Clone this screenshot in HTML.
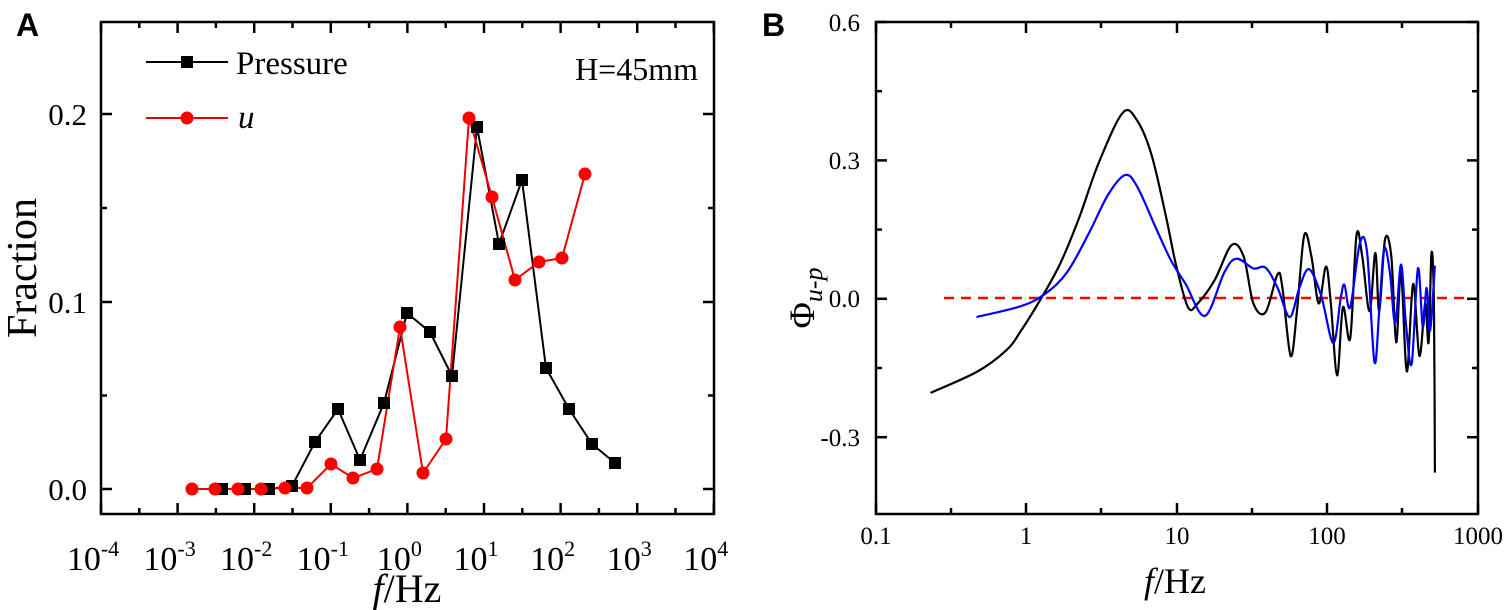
<!DOCTYPE html>
<html><head><meta charset="utf-8"><style>
body{margin:0;background:#fff;}
svg{display:block;font-family:"Liberation Serif",serif;}
</style></head><body>
<svg id="s" width="1505" height="610" viewBox="0 0 1505 610" xmlns="http://www.w3.org/2000/svg">
<g font-family="Liberation Sans,sans-serif" font-weight="bold" font-size="32">
<text x="16" y="36">A</text><text x="762" y="36">B</text></g>
<rect x="101" y="22" width="613" height="492" fill="none" stroke="#000" stroke-width="2.5"/>
<g id="ticksA" stroke="#000" stroke-width="2.5"></g>
<g font-size="31" text-anchor="end">
<text x="87" y="500">0.0</text><text x="87" y="313">0.1</text><text x="87" y="125">0.2</text></g>
<g id="xlabA" font-size="34"></g>
<text x="0" y="0" font-size="42" transform="translate(36,268) rotate(-90)" text-anchor="middle">Fraction</text>
<text x="407" y="602" font-size="40" text-anchor="middle"><tspan font-style="italic">f</tspan>/Hz</text>
<text x="698" y="80" font-size="32" text-anchor="end">H=45mm</text>
<line x1="146" y1="62" x2="228" y2="62" stroke="#000" stroke-width="2"/>
<rect x="181" y="56" width="12" height="12" fill="#000"/>
<text x="236" y="74" font-size="33">Pressure</text>
<line x1="146" y1="118" x2="228" y2="118" stroke="#e00" stroke-width="2"/>
<circle cx="187" cy="118" r="6.5" fill="#f00"/>
<text x="238" y="128" font-size="33" font-style="italic">u</text>
<g id="dataA"></g>
<rect x="876" y="22" width="602" height="492" fill="none" stroke="#000" stroke-width="2.5"/>
<g id="ticksB" stroke="#000" stroke-width="2.5"></g>
<g font-size="25" text-anchor="end">
<text x="860" y="31">0.6</text><text x="860" y="169">0.3</text><text x="860" y="307">0.0</text><text x="860" y="446">-0.3</text></g>
<g font-size="25" text-anchor="middle">
<text x="876" y="544">0.1</text><text x="1026" y="544">1</text><text x="1177" y="544">10</text><text x="1327" y="544">100</text><text x="1478" y="544">1000</text></g>
<text x="0" y="0" font-size="36" transform="translate(814,298) rotate(-90)" text-anchor="middle">Φ<tspan font-size="26" dy="8" font-style="italic">u-p</tspan></text>
<text x="1175" y="593" font-size="36" text-anchor="middle"><tspan font-style="italic">f</tspan>/Hz</text>
<line x1="944" y1="298" x2="1469" y2="298" stroke="#f00" stroke-width="2.5" stroke-dasharray="10,7"/>
<g id="dataB"></g>
</svg>
<script>
var NS="http://www.w3.org/2000/svg";
function el(p,t,a){var e=document.createElementNS(NS,t);for(var k in a)e.setAttribute(k,a[k]);document.getElementById(p).appendChild(e);return e;}
for(var i=0;i<=8;i++){var x=101+i*76.6;el("ticksA","line",{x1:x,y1:514,x2:x,y2:503});el("ticksA","line",{x1:x,y1:22,x2:x,y2:33});
 if(i<8){var xm=x+38.3;el("ticksA","line",{x1:xm,y1:514,x2:xm,y2:508});el("ticksA","line",{x1:xm,y1:22,x2:xm,y2:28});}
 var t=el("xlabA","text",{x:x-8,y:570,"text-anchor":"middle"});t.textContent="10";var s=document.createElementNS(NS,"tspan");s.setAttribute("dy","-14");s.setAttribute("font-size","22");s.textContent=String(i-4);t.appendChild(s);}
[489,395.5,302,208,114].forEach(function(y,j){var L=j%2?6:11;el("ticksA","line",{x1:101,y1:y,x2:101+L,y2:y});el("ticksA","line",{x1:714,y1:y,x2:714-L,y2:y});});
[876,1026,1177,1327,1478].forEach(function(x,j){el("ticksB","line",{x1:x,y1:514,x2:x,y2:503});el("ticksB","line",{x1:x,y1:22,x2:x,y2:33});
 if(j<4){var xm=x+75;el("ticksB","line",{x1:xm,y1:514,x2:xm,y2:508});el("ticksB","line",{x1:xm,y1:22,x2:xm,y2:28});}});
for(var y=22;y<=500;y+=69.2){var L=(Math.round((y-22)/69.2)%2)?6:11;el("ticksB","line",{x1:876,y1:y,x2:876+L,y2:y});el("ticksB","line",{x1:1478,y1:y,x2:1478-L,y2:y});}
var P=[[222,489],[245,489],[269,489],[292,486],[315,442],[338,409],[360,460],[384,403],[407,313],[430,332],[452,376],[477,127],[499,244],[522,180],[546,368],[569,409],[592,444],[615,463]];
var U=[[192,489],[215,489],[238,489],[261,489],[285,488],[307,488],[331,464],[353,478],[377,469],[400,327],[423,473],[446,439],[469,118],[492,197],[515,280],[539,262],[562,258],[585,174]];
el("dataA","polyline",{points:P.join(" "),fill:"none",stroke:"#000","stroke-width":2});
el("dataA","polyline",{points:U.join(" "),fill:"none",stroke:"#e00","stroke-width":2});
P.forEach(function(p){el("dataA","rect",{x:p[0]-6,y:p[1]-6,width:12,height:12,fill:"#000"});});
U.forEach(function(p){el("dataA","circle",{cx:p[0],cy:p[1],r:6.5,fill:"#f00"});});
function cv(a){return a.map(function(p){return[p[0]/2.066+750,p[1]*0.389];});}
function cr(pts){var d="M"+pts[0][0]+","+pts[0][1];for(var i=0;i<pts.length-1;i++){var p0=pts[i-1]||pts[i],p1=pts[i],p2=pts[i+1],p3=pts[i+2]||p2;
 d+=" C"+(p1[0]+(p2[0]-p0[0])/6)+","+(p1[1]+(p2[1]-p0[1])/6)+" "+(p2[0]-(p3[0]-p1[0])/6)+","+(p2[1]-(p3[1]-p1[1])/6)+" "+p2[0]+","+p2[1];}return d;}
var K=cv([[373,1010],[470,955],[530,900],[560,850],[600,770],[640,680],[680,560],[720,420],[770,290],[800,310],[830,400],[860,560],[880,680],[905,790],[925,780],[960,720],[995,630],[1020,660],[1040,780],[1065,803],[1090,705],[1100,740],[1117,915],[1130,800],[1145,605],[1160,660],[1175,780],[1190,685],[1200,780],[1213,965],[1225,790],[1240,870],[1253,605],[1265,660],[1280,800],[1292,650],[1300,800],[1312,615],[1325,660],[1335,880],[1345,700],[1357,955],[1370,730],[1383,915],[1395,780],[1402,880],[1408,650],[1413,780],[1415,1215]]);
var B=cv([[468,815],[560,787],[610,755],[655,700],[700,600],[740,500],[775,450],[800,480],[840,590],[870,670],[900,730],[940,812],[980,700],[1005,665],[1040,690],[1065,688],[1090,740],[1115,815],[1135,740],[1155,692],[1180,760],[1205,882],[1220,770],[1228,732],[1240,790],[1260,625],[1275,650],[1290,930],[1300,800],[1310,640],[1322,700],[1333,830],[1345,680],[1355,830],[1367,935],[1380,690],[1390,840],[1398,740],[1405,850],[1415,683]]);
el("dataB","path",{d:cr(K),fill:"none",stroke:"#000","stroke-width":2.2});
el("dataB","path",{d:cr(B),fill:"none",stroke:"#00f","stroke-width":2.2});
</script>
</body></html>
